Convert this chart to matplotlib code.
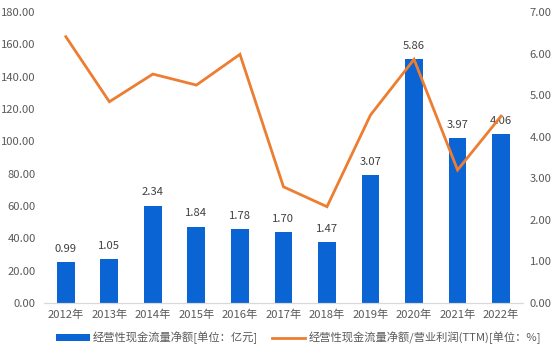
import matplotlib
matplotlib.use("Agg")
import matplotlib.pyplot as plt
from matplotlib.patches import Patch
from matplotlib.lines import Line2D

plt.rcParams['font.family'] = ['Noto Sans CJK SC', 'DejaVu Sans']

years = ["2012年", "2013年", "2014年", "2015年", "2016年", "2017年",
         "2018年", "2019年", "2020年", "2021年", "2022年"]
cash_flow = [0.99, 1.05, 2.34, 1.84, 1.78, 1.70, 1.47, 3.07, 5.86, 3.97, 4.06]
ratio = [164.7, 124.5, 141.6, 134.8, 153.8, 71.9, 59.6, 116.3, 150.7, 82.3, 115.6]
left_ticks = [0, 20, 40, 60, 80, 100, 120, 140, 160, 180]
right_ticks = [0, 1, 2, 3, 4, 5, 6, 7]

bar_label = "经营性现金流量净额[单位：亿元]"
line_label = "经营性现金流量净额/营业利润(TTM)[单位：%]"

blue = "#0A64D3"
orange = "#ED7D31"
txt = "#595959"
fs = 8.1

fig = plt.figure(figsize=(5.58, 3.52), dpi=100)
ax = fig.add_axes([0.079, 0.139, 0.858, 0.827])
ax2 = ax.twinx()

x = list(range(len(years)))
bars = ax2.bar(x, cash_flow, width=0.41, color=blue, zorder=2)
for xi, v in zip(x, cash_flow):
    ax2.annotate(f"{v:.2f}", (xi, v), xytext=(0, 6), textcoords="offset points",
                 ha="center", va="bottom", fontsize=fs, color="#404040")

ax.plot(x, ratio, color=orange, lw=2.0, zorder=3, solid_joinstyle="miter")
ax.set_zorder(ax2.get_zorder() + 1)
ax.patch.set_visible(False)

ax.set_xlim(-0.5, len(years) - 0.5)
ax.set_ylim(0, 180)
ax2.set_ylim(0, 7)
ax.set_yticks(left_ticks)
ax.set_yticklabels([f"{t:.2f}" for t in left_ticks])
ax2.set_yticks(right_ticks)
ax2.set_yticklabels([f"{t:.2f}" for t in right_ticks])
ax.set_xticks(x)
ax.set_xticklabels(years)

for a in (ax, ax2):
    for s in ("top", "left", "right"):
        a.spines[s].set_visible(False)
    a.spines["bottom"].set_color("#D9D9D9")
    a.tick_params(length=0, labelsize=fs, colors=txt)
ax.tick_params(axis="y", pad=6)
ax2.tick_params(axis="y", pad=5)
ax.tick_params(axis="x", pad=5)

handles = [Patch(facecolor=blue, edgecolor="none"),
           Line2D([0], [0], color=orange, lw=2.0)]
fig.legend(handles, [bar_label, line_label], loc="center", bbox_to_anchor=(0.535, 0.04),
           ncol=2, frameon=False, fontsize=fs, labelcolor=txt,
           handlelength=3.0, handleheight=0.6, columnspacing=1.2, handletextpad=0.3)

fig.savefig("out.png", dpi=100)
